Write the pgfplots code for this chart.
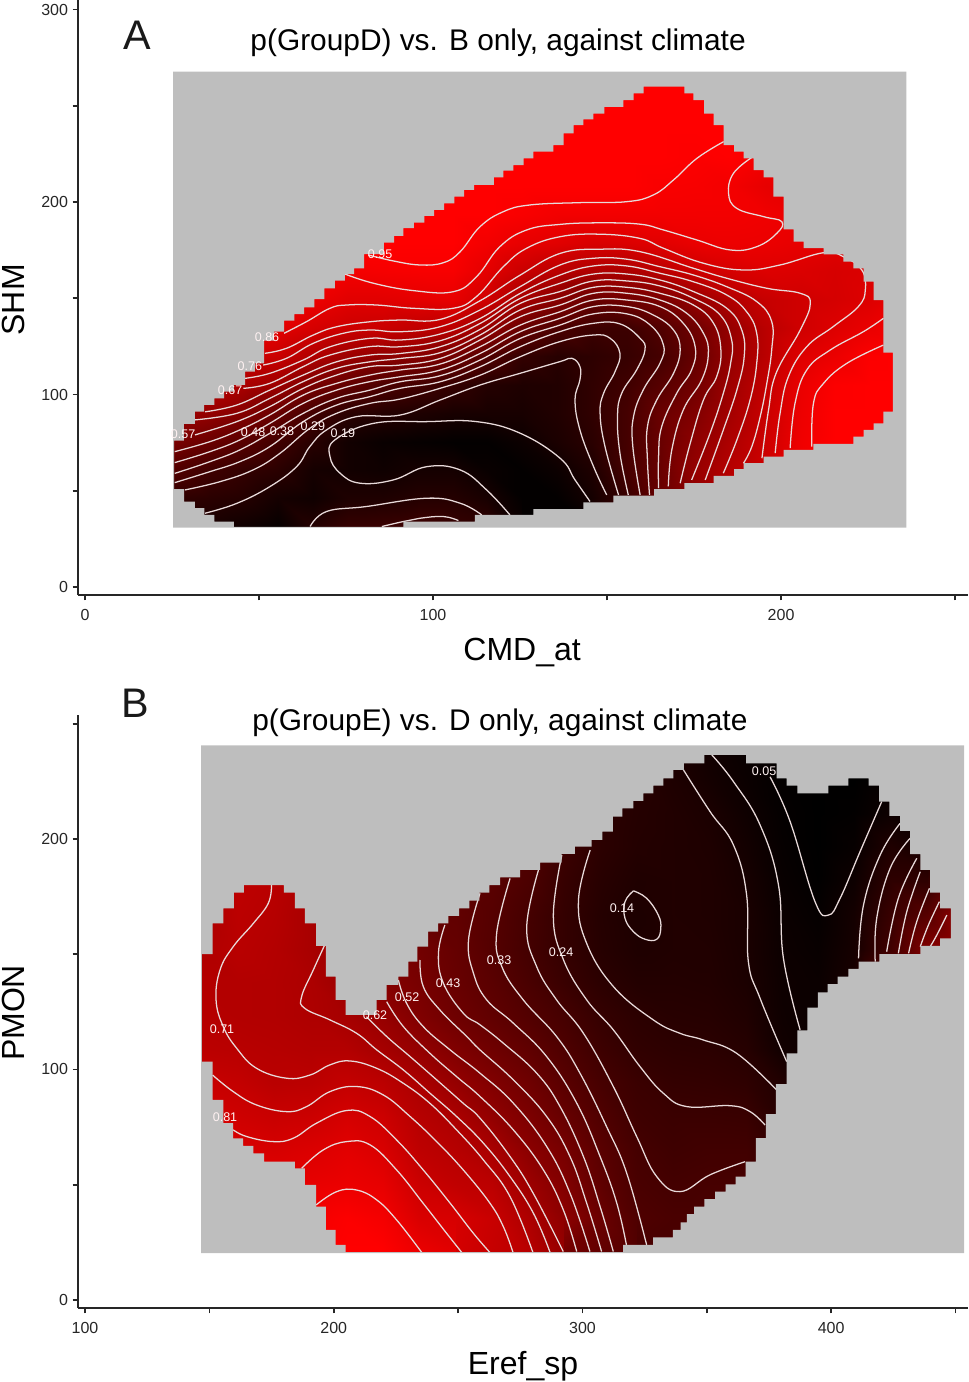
\documentclass[border=0pt]{standalone}
\usepackage{fontspec}
\setmainfont{Liberation Sans}
\usepackage{pgfplots}
\pgfplotsset{compat=1.18}
\definecolor{backg}{HTML}{BEBEBE}
\definecolor{cline}{HTML}{E8DADA}
\pgfplotsset{
  panel/.style={
    scale only axis, width=667.5pt,
    axis x line*=bottom, axis y line*=left,
    axis line style={-, line width=1.5pt, color=black!85},
    tick align=outside, major tick length=4pt,
    tick style={line width=1.2pt, color=black!85},
    ticklabel style={font=\fontsize{12}{12}\selectfont, text=black!85},
    x tick label style={yshift=-3.5pt},
    /pgf/number format/assume math mode=true,
    colormap={br}{rgb255(0)=(0,0,0) rgb255(1)=(255,0,0)},
    title style={font=\fontsize{22.4}{24}\selectfont},
    label style={font=\fontsize{24}{26}\selectfont},
  },
  heat/.style={surf, shader=interp, forget plot, point meta=explicit},
  cont/.style={draw=cline, line width=0.95pt, smooth, tension=0.7, no marks, forget plot, fill=none},
  mask/.style={const plot, fill=backg, draw=none, even odd rule, no marks, forget plot},
}
\newcommand{\clab}[2]{\node[text=white!95!red, font=\fontsize{9.4}{10}\selectfont, inner sep=0pt] at (axis cs:#1) {#2};}
\begin{document}
\begin{tikzpicture}
\path[use as bounding box] (0,0) rectangle (726.75pt,-1036.5pt);
\begin{axis}[panel, at={(58.5pt,-446.25pt)}, anchor=south west, height=446.25pt,
  xmin=-2, xmax=253.7, ymin=-4.2, ymax=305,
  point meta min=12, point meta max=97,
  xtick={0,50,...,250}, xticklabels={0,,100,,200,},
  ytick={0,50,...,300}, yticklabels={0,,100,,200,,300},
  title={p(GroupD) vs. B only, against climate},
  title style={at={(axis description cs:0.472,0.915)}, anchor=center},
  xlabel={CMD\_at}, xlabel style={at={(axis description cs:0.499,-0.0974)}, anchor=center},
  ylabel={SHM}, ylabel style={at={(axis description cs:-0.073,0.496)}, anchor=center},
]
\addplot[heat, mesh/rows=17, mesh/cols=22, mesh/ordering=y varies] table[row sep=\\, header=false,
  x expr={25.6+10*floor(\coordindex/17)}, y expr={31.2+14.77*mod(\coordindex,17)}, meta index=0] {
22\\28\\39\\52\\66\\80\\90\\97\\100\\100\\100\\100\\100\\100\\100\\100\\100\\
20\\26\\33\\47\\61\\76\\88\\95\\98\\100\\100\\100\\100\\100\\100\\100\\100\\
17\\24\\29\\41\\56\\68\\81\\92\\97\\100\\100\\100\\100\\100\\100\\100\\100\\
14\\19\\26\\33\\46\\64\\79\\88\\95\\98\\100\\100\\100\\100\\100\\100\\100\\
24\\17\\19\\25\\34\\52\\71\\83\\91\\97\\100\\100\\100\\100\\100\\100\\100\\
30\\22\\18\\18\\26\\44\\64\\80\\87\\93\\97\\100\\100\\100\\100\\100\\100\\
30\\22\\17\\15\\24\\37\\60\\79\\87\\94\\98\\100\\100\\100\\100\\100\\100\\
32\\24\\19\\14\\22\\34\\57\\76\\88\\94.5\\98\\100\\100\\100\\100\\100\\100\\
33\\24\\19\\13\\20\\29\\50\\74\\89\\94.5\\98\\100\\100\\100\\100\\100\\100\\
28\\20\\15\\13\\20\\24\\39\\62\\81\\88\\93\\97\\100\\100\\100\\100\\100\\
16\\13\\13\\16\\20\\22\\29\\46\\67\\79\\89\\95\\98\\100\\100\\100\\100\\
13\\13\\16\\21\\23\\23\\25\\37\\57\\74\\87\\93\\97\\100\\100\\100\\100\\
13\\19\\22\\26\\28\\28\\27\\32\\46\\70\\84\\93\\97\\100\\100\\100\\100\\
24\\31\\35\\35\\35\\33\\30\\32\\49\\69\\85\\93\\97.5\\100\\100\\100\\100\\
47\\47\\47\\47\\47\\41\\35\\39\\52\\74\\87\\93\\95\\99\\100\\100\\100\\
62\\61\\62\\59\\55\\50\\46\\49\\62\\80\\90\\93\\94.5\\96\\100\\100\\100\\
73\\73\\73\\70\\67\\65\\62\\62\\71\\83\\91\\93\\93\\97\\100\\100\\100\\
82\\82\\81\\80\\79\\77\\74\\74\\78\\85.7\\90.5\\92\\89\\93\\100\\100\\100\\
92\\92\\92\\92\\91\\90\\86\\81\\81\\85\\89\\90\\90\\90\\90\\90\\90\\
97\\97\\97\\97\\97\\96\\90.5\\85.7\\83\\83.5\\87\\90\\90\\90\\90\\90\\90\\
100\\100\\100\\100\\100\\100\\96\\90\\85.7\\85\\87\\90\\90\\90\\90\\90\\90\\
100\\100\\100\\100\\100\\100\\100\\95\\90\\90\\90\\90\\90\\90\\90\\90\\90\\
};
% contour lines, level 0.95 downwards
\addplot[cont] coordinates {(81.4,172.5)(88.6,169.4)(96.3,167.3)(103,168.5)(107.8,174.2)(113.5,187.2)(120.2,195)(127.9,198.5)(142.3,199.7)(155.7,200.2)(163.3,203.7)(169.1,211.5)(175.8,222.7)(183.5,231.4)};
\addplot[cont] coordinates {(229.4,125.7)(218.9,116.2)(212.2,105.8)(209.3,95.4)(208.8,72.9)};
\addplot[cont] coordinates {(74.7,162.6)(82.9,157.8)(94.3,154)(105.8,153.4)(112.5,161.2)(119.2,176.8)(126.9,185.5)(136.5,188.4)(148,189.2)(159.5,188.5)(166.2,185.5)(175.8,180.3)(185.4,175.1)(193,176.8)(198.8,183.8)(200.2,189.8)(195,192.4)(187.3,196.7)(184.9,204.5)(186.3,214.9)(191.6,223.2)};
\addplot[cont] coordinates {(229.4,139.6)(223.7,132.7)(214.1,123.1)(207.4,112.8)(204,95.4)(202.6,72.1)};
\addplot[cont] coordinates {(57.2,131.8)(63.7,137.9)(70.4,144.8)(75.2,146.5)(83.8,146.5)(94.3,144.8)(105.8,144.8)(112.5,150.9)(120.2,166.4)(126.9,176)(136.5,182)(148,183.3)(159.5,181.1)(166.2,176)(177.7,168.2)(189.2,164.7)(199.7,167.3)(212.2,173.7)(217.9,171.6)(223.2,164.7)(224.2,154.3)(222.2,145.7)(215,135.3)(207.4,124.9)(202.1,109.3)(199.7,90.2)(198.3,69.5)};
\addplot[cont] coordinates {(51.7,121.4)(57.9,124)(65.6,130.9)(72.3,135.2)(81.9,137.8)(90.5,138.7)(102,139)(113.5,148.7)(125,162)(136.5,173.3)(148,175.5)(159.5,174.2)(174.8,165.6)(184.4,160.4)(195.9,155.2)(205.5,152.6)(208.4,147.4)(205.5,133.5)(198.6,111.2)(196.4,92)(194.5,66.9)};
\addplot[cont] coordinates {(51.2,115.3)(57.9,118.8)(65.6,126.6)(74.2,131.8)(81.9,133.5)(90.5,132.6)(102,135.2)(113.5,143.9)(125,156)(136.5,167.3)(146.1,170.8)(155.7,170.3)(165.2,166.4)(174.8,162.1)(184.4,156)(193,148.3)(197.3,137.9)(197.3,123.2)(195.9,105.8)(194,88.5)(191.6,73)(189.2,64.3)};
\addplot[cont] coordinates {(46,108.4)(53.1,111)(62.7,117.9)(70.4,124.8)(81.9,129.2)(90.5,128.3)(102,131.4)(113.5,139.5)(125,152.5)(136.5,162.1)(146.1,166.8)(155.7,166.8)(165.2,163)(174.8,158.6)(184.4,151.7)(190.1,143)(193,131.8)(193,116.2)(191.1,97.2)(187.3,76.4)(183.4,59.1)};
\addplot[cont] coordinates {(45.5,103.2)(53.1,105.8)(62.7,114.5)(70.4,120.5)(81.9,124.9)(90.5,124.8)(102,127.9)(113.5,136.9)(125,149.9)(136.5,157.8)(146.1,162.6)(155.7,162.6)(165.2,159.5)(174.8,153.5)(184.4,144.8)(188.7,133.5)(189.4,119.7)(187.3,102.4)(183.4,81.6)(178.2,55.6)};
\addplot[cont] coordinates {(34.5,91)(43.6,94.5)(53.1,102.3)(62.7,110.1)(72.3,117)(81.9,120.5)(90.5,121.3)(102,124.8)(113.5,133.8)(125,147.3)(136.5,153.5)(146.1,159)(155.7,159)(165.2,156.4)(174.8,150)(182.5,141.3)(185.8,128.3)(185.5,116.2)(183.4,100.6)(179.6,79.9)(174.3,55.6)};
\addplot[cont] coordinates {(31.6,86.8)(43.6,90.2)(53.1,98)(62.7,106.7)(72.3,113.6)(81.9,117)(90.5,118.7)(102,121.7)(113.5,130.9)(125,143.9)(136.5,150)(146.1,155.7)(155.7,155.7)(165.2,152.6)(174.8,146.5)(180.6,137)(182.7,123.2)(181.5,109.3)(177.7,97.2)(173.9,74.7)(171,53.9)};
\addplot[cont] coordinates {(31.6,79)(43.6,85.9)(53.1,93.7)(62.7,103.2)(72.3,110.1)(81.9,114.5)(90.5,115.3)(102,118.7)(113.5,128.3)(125,140.4)(136.5,146.5)(146.1,152.6)(155.7,152.6)(165.2,149.1)(172.9,142.2)(177.7,131.8)(179.1,121.4)(177.2,107.6)(171.9,92)(168.6,71.2)(167.6,52.2)};
\addplot[cont] coordinates {(25.8,70.3)(35.9,75.5)(44.5,81.6)(53.1,89.4)(62.7,99.7)(72.3,105.8)(81.9,110.1)(90.5,112.7)(102,115.8)(113.5,124.8)(125,136)(136.5,143)(146.1,149.1)(155.7,149.1)(165.2,145.7)(171.9,137)(175.3,124.9)(174.3,112.8)(170,100.6)(165.7,83.3)(164.8,67.8)(164.8,51.3)};
\addplot[cont] coordinates {(25.8,64.6)(35.9,70.3)(44.5,76.4)(53.1,85)(62.7,95.4)(72.3,102.3)(81.9,106.7)(90.5,109.2)(102,112.7)(113.5,121.3)(125,132.6)(136.5,139.6)(146.1,145.7)(155.7,145.7)(163.3,141.3)(169.1,133.5)(171,123.2)(169.1,111)(164.3,97.2)(161.6,83.3)(161.6,66)(162.2,47.8)};
\addplot[cont] coordinates {(25.8,59)(35.9,65.1)(44.5,71.2)(53.1,79.8)(62.7,90.2)(72.3,98)(81.9,102.3)(90.5,106.6)(102,109.7)(113.5,117.9)(125,129.1)(136.5,136.1)(146.1,141.9)(155.7,141.9)(162.4,136.1)(166.2,125.8)(165.2,116.2)(160.4,102.4)(157.6,88.5)(157.4,73)(159.5,47.8)};
\addplot[cont] coordinates {(25.8,54.2)(35.9,59.9)(44.5,65.1)(53.1,72.9)(62.7,85.9)(72.3,94.5)(81.9,98.9)(90.5,103.2)(102,106.6)(113.5,114.4)(125,124.8)(136.5,132.7)(146.1,137)(153.7,136.7)(159.5,129.2)(160.9,123.2)(158.5,112.8)(154.2,100.6)(153,88.5)(153.7,69.5)(156.1,47.8)};
\addplot[cont] coordinates {(28.7,50.4)(38.8,54.7)(48.3,60.8)(56,69.4)(64.6,82.4)(72.3,90.2)(81.9,95.4)(90.5,97.6)(102,103.2)(113.5,110)(125,119.6)(136.5,127.5)(146.1,130.9)(150.9,129.2)(153.7,121.4)(152.3,111.9)(149,100.6)(148,90.3)(149.4,73)(153.3,47.8)};
\addplot[cont] coordinates {(34.5,38.3)(43.6,43.4)(53.1,52.1)(60.8,62.5)(64.6,72.9)(69.4,81.6)(78,88.5)(90.5,89.3)(102,97.1)(113.5,104.9)(125,111)(136.5,117.1)(139.9,118.8)(142.2,114.5)(142.2,107.6)(140.8,97.2)(142.2,81.6)(146.1,62.6)(149.9,47.8)};
\addplot[cont] coordinates {(122.1,37.4)(115.4,50.4)(107.8,60.8)(98.2,62.5)(88.6,55.6)(79,53.9)(73.3,59.1)(70.4,67.7)(71.8,76.4)(82.9,85)(98.2,85.9)(112.5,85.9)(125,79.9)(136.5,66.9)(140.8,55.6)(145.1,44.4)};
\addplot[cont] coordinates {(64.7,31.4)(69.4,39.2)(80.9,41.8)(98.2,46.1)(107.8,43.5)(114,37.4)};
\addplot[cont] coordinates {(85.3,31.4)(91.5,34)(96.3,35.7)(102.9,36.6)(107.3,34.5)};
% the grey ground, with the region of the data cut out of it
\addplot[mask] coordinates {(25.3,30.8)(236,30.8)(236,267.8)(25.3,267.8)(25.3,30.8)(25.3,50.8)(25.6,50.8)
(25.6,76)(28.4,84.7)(31.6,91.1)(34.2,94.6)(37.2,98)(40,101.5)(42.8,105)(46,111.9)(48.8,116.2)(51.5,128)(54.3,132.7)(57.2,138.4)(60.2,141.8)(63,145.3)(65.9,149.5)(68.8,155.2)(71.8,159.2)(74.7,162.6)(77.3,165.6)(80.2,173)(85.9,178.9)(88.8,182.4)(91.5,186.4)(94.5,189.3)(97.5,192.8)(100.3,195.9)(103.2,199.3)(106.1,202.8)(108.9,206.3)(111.8,208.9)(117.5,212.8)(120.2,216.3)(123.1,219.2)(126,222.7)(128.8,226.2)(134.6,229.6)(137.5,235.7)(140.4,240)(143.2,243)(146.1,246)(149.2,249.5)(154.7,253)(157.6,256.5)(160.5,260)(172.2,256.5)(174.8,253)(177.9,246)(180.6,240)(183.5,229.6)(186.5,226.2)(189.2,222.7)(192.1,216.6)(195,212.8)(197.8,202.8)(200.7,185.8)(203.6,179.4)(206.5,176)(212.2,172.8)(217.9,169)(220.8,165.6)(223.7,158.6)(226.6,149.1)(229.4,121.8)(232.1,91.1)(229.4,85)(226.6,81.6)(223.7,78.1)(220.8,74.3)(209.3,71.2)(200.7,67.7)(195,64.3)(189.2,61.2)(186.5,57.7)(180.6,53.9)(172.2,50.8)(163.5,47.5)(151.8,44)(143.2,40.4)(128.8,37.4)(112,33.9)(91.5,31.2)(42.8,33.9)(37.2,37.4)(34.3,40.9)(31.6,44.3)(28.5,50.8)(25.6,50.8)(25.3,50.8)(25.3,30.8)};
\clab{84.8,173}{0.95}\clab{52.3,129.9}{0.86}\clab{47.4,114.8}{0.76}\clab{41.7,102.3}{0.67}\clab{28.2,79.5}{0.57}\clab{48.3,80.5}{0.48}\clab{56.6,81}{0.38}\clab{65.5,83.6}{0.29}\clab{74.1,80}{0.19}
\node[font=\fontsize{31}{33}\selectfont, text=black!90] at (axis description cs:0.067,0.941) {A};
\end{axis}
\begin{axis}[panel, at={(58.5pt,-981pt)}, anchor=south west, height=444.75pt,
  xmin=97.2, xmax=455, ymin=-3.5, ymax=253.8,
  point meta min=3, point meta max=97,
  xtick={100,150,...,450}, xticklabels={100,,200,,300,,400,},
  ytick={0,50,...,250}, yticklabels={0,,100,,200,},
  title={p(GroupE) vs. D only, against climate},
  title style={at={(axis description cs:0.474,0.973)}, anchor=center},
  xlabel={Eref\_sp}, xlabel style={at={(axis description cs:0.5,-0.0977)}, anchor=center},
  ylabel={PMON}, ylabel style={at={(axis description cs:-0.073,0.4975)}, anchor=center},
  clip=false,
]
\addplot[heat, mesh/rows=16, mesh/cols=22, mesh/ordering=y varies] table[row sep=\\, header=false,
  x expr={147+14.571*floor(\coordindex/16)}, y expr={20.8+14.63*mod(\coordindex,16)}, meta index=0] {
85\\85\\85\\85\\85\\77\\72\\70\\69\\68\\67\\67\\67\\67\\67\\67\\
88\\88\\86\\83\\79\\75\\71\\69\\69\\71\\72\\73\\73\\73\\73\\73\\
95\\93\\88\\82\\77\\71.5\\70\\68.5\\68.5\\69\\70\\71\\71\\71\\71\\71\\
98\\93\\88.5\\84\\78\\72\\69\\67\\66.5\\65\\65\\65\\65\\65\\65\\65\\
100\\96\\90\\86.5\\81.5\\75\\69\\64\\60\\60\\60\\60\\60\\60\\60\\60\\
100\\93\\88\\83\\78.5\\72\\64\\58\\52\\50\\50\\50\\50\\50\\50\\50\\
90\\83\\78\\73\\70\\66\\57.5\\50\\47\\45\\40\\40\\40\\40\\40\\40\\
86\\82\\74\\70\\66\\58\\50\\43.5\\41\\40\\39\\38\\38\\38\\38\\38\\
81\\77\\72\\65.5\\57\\50.5\\44\\38.5\\36\\34\\34.5\\36\\36\\36\\36\\36\\
71\\67\\61\\54.5\\49\\44\\38.5\\33.5\\30\\28\\28.5\\31\\33\\33\\33\\33\\
58\\55\\51\\47\\41\\36\\32\\28.6\\24\\22\\22\\23\\25\\25\\25\\25\\
46\\42\\38\\36\\32.5\\29\\25.5\\22.5\\19\\17\\16.5\\17.5\\19\\19\\19\\19\\
33\\32\\30\\28.5\\26\\24.5\\21\\19\\16\\14.2\\13.5\\14.5\\16\\16.5\\17\\17\\
30\\30\\28\\26\\24.5\\22\\19.5\\17.5\\16\\15\\15\\15\\15\\15\\14\\13\\
30\\30\\29\\27\\24.5\\21.5\\19\\17\\15.5\\15\\14.5\\14.5\\14\\13\\10.5\\9\\
30\\30\\29\\27\\24\\20\\17\\14.7\\13\\12.5\\12.5\\11.5\\10\\8.5\\7\\6\\
25\\25\\22\\20\\17\\15\\9.5\\8.5\\8\\7.5\\7\\6\\5.2\\4.5\\4\\4\\
7\\7\\7\\7\\7\\7\\7\\7\\7\\6\\4.8\\3.5\\3\\3\\3\\3\\
12\\12\\12\\12\\12\\12\\12\\12\\12\\11\\10.5\\8\\5.5\\4\\3\\3\\
38\\38\\38\\38\\38\\38\\38\\38\\38\\27\\24\\20\\14.5\\8\\5\\5\\
50\\50\\50\\50\\50\\50\\50\\50\\50\\50\\35\\20\\10\\5\\5\\5\\
60\\60\\60\\60\\60\\60\\60\\60\\60\\60\\60\\60\\60\\60\\60\\60\\
};
\addplot[cont] coordinates {(192.9,41.2)(201.2,47)(209.2,47.7)(217.3,43.4)(225.3,34.7)(235.4,20.6)};
\addplot[cont] coordinates {(187.1,57.1)(195.8,65.1)(205.2,68.7)(214.6,67.3)(225.3,56.4)(236,41.9)(245.4,28.9)(251.5,20.6)};
\addplot[cont] coordinates {(159.6,73.8)(165,70.9)(175.7,68.7)(183.8,70.2)(193.1,76.7)(205.2,82.2)(214.6,79.6)(225.3,69.4)(236,56.4)(246.8,42)(256.1,29)(262.8,20.6)};
\addplot[cont] coordinates {(151.3,97.6)(159.6,90.4)(169,84.6)(181.1,81.7)(189.1,83.9)(198.5,90.4)(209.2,92.6)(220,88.9)(230.7,79.6)(241.4,68.7)(252.1,56.4)(262.8,42)(268.2,31.8)(272.1,20.6)};
\addplot[cont] coordinates {(175,180)(173.7,172.1)(167.7,163.4)(159.6,153.3)(154.3,143.2)(152.7,130.2)(155.6,118.6)(161,109.2)(169,100.5)(181.1,96.2)(190.5,97.6)(198.5,102)(206.5,103.7)(217.3,100.5)(228,94)(238.7,85.3)(249.4,73.8)(260.2,60.7)(270.9,44.8)(280.1,20.6)};
\addplot[cont] coordinates {(196.2,153.6)(191.8,143.2)(187.1,131.6)(188.4,126.5)(198.5,121.5)(209.2,115.7)(217.3,108.5)(228,99.8)(238.7,89.7)(249.4,79.6)(260.2,68)(270.9,53.5)(280.3,37.6)(287,20.6)};
\addplot[cont] coordinates {(213.2,122.9)(221.3,114.3)(230.7,105.6)(241.4,95.5)(252.1,85.3)(258.8,78.9)(270.9,62.2)(280.2,46.3)(292.3,21)};
\addplot[cont] coordinates {(221.3,129.4)(228,118.6)(238.7,107)(249.4,96.9)(258.8,88.3)(272.2,73.8)(284.3,56.4)(292.3,39.1)(297.7,21)};
\addplot[cont] coordinates {(226,138.8)(229.3,128.7)(236,118.6)(246.8,108.5)(258.8,98.4)(272.2,85.4)(285.6,66.6)(295,46.3)(303,21)};
\addplot[cont] coordinates {(234.7,147.5)(236,136)(242.7,125.8)(253.5,114.3)(258.8,108.5)(272.2,95.5)(285.6,79.6)(295,62.2)(301.7,42)(307.7,21)};
\addplot[cont] coordinates {(244.7,162.7)(242.1,150.4)(244.1,137.4)(252.1,124.4)(258.8,119.4)(268.2,111.4)(281.6,98.4)(291,83.9)(300.4,62.2)(307.1,40.5)(312.4,21)};
\addplot[cont] coordinates {(258.8,176.4)(254.2,156.2)(256.2,141.7)(261.5,130.2)(272.2,120.1)(285.6,105.6)(297.7,85.4)(307.1,62.2)(313.8,42)(317.8,23.2)};
\addplot[cont] coordinates {(270.9,182.9)(265.5,159)(267.6,144.6)(276.2,130.2)(289.6,114.3)(299,98.4)(309.7,75.2)(317.8,55)(325.8,23.9)};
\addplot[cont] coordinates {(282.3,186.5)(277.6,161.9)(281.6,144.6)(289.6,130.2)(300.4,115.7)(312.4,92.6)(321.8,70.9)(329.8,53.6)(339.2,47)(351.3,54.3)(365.4,60)};
\addplot[cont] coordinates {(291.7,193)(288.3,166.3)(292.4,147.5)(301.7,130.2)(312.4,117.2)(323.1,101.3)(332.5,89.7)(341.9,83.9)(359.3,84.3)(367.4,81.7)(373.4,75.9)};
\addplot[cont] coordinates {(303.1,195.2)(298.4,173.5)(301.7,154.7)(312.5,135.9)(328.5,121.5)(339.2,115.7)(348.6,112.8)(362,107)(378.1,91.1)};
\addplot[cont] coordinates {(340.6,230)(351.3,211.9)(360.7,197.4)(366,175.7)(366.7,146.8)(371.4,130.9)(382.1,103.4)};
\addplot[cont] coordinates {(320.5,177.5)(325.8,174.3)(330.5,167)(331.5,161.3)(329.9,156.5)(325.2,156.5)(320.5,159.8)(317.1,165.6)(317.1,172.8)(320.5,177.5)};
\addplot[cont] coordinates {(352,236.5)(360.7,224.9)(371.4,206.1)(378.8,180.1)(380.8,148.2)(387.5,117.2)};
\addplot[cont] coordinates {(375.4,227)(383.5,207.5)(393.5,172.8)(398.9,167)(403.6,174.3)(411.6,194.5)(420.3,216.2)};
\addplot[cont] coordinates {(427.7,206.8)(419.7,193.1)(413,171.4)(411,148.2)};
\addplot[cont] coordinates {(431.7,200.3)(423.7,187.3)(418.3,165.6)(417.7,146.8)};
\addplot[cont] coordinates {(434.4,191.6)(427,174.3)(422.3,151.1)};
\addplot[cont] coordinates {(435.8,185.8)(430.4,168.5)(427,150.4)};
\addplot[cont] coordinates {(439.5,178.6)(434.4,164.2)(431.1,150.4)};
\addplot[cont] coordinates {(443.5,172.8)(439.1,162.7)(435.8,153.3)};
\addplot[cont] coordinates {(446.5,167)(442.5,158.4)(439.8,153.3)};
\addplot[mask] coordinates {(146.7,20.3)(453.4,20.3)(453.4,240.6)(146.7,240.6)(146.7,20.3)(146.7,103.4)(147,103.4)
(147,150.1)(151.3,163.4)(155.6,169.9)(159.9,176.7)(163.9,180)(180,176.7)(184.4,169.9)(188.4,163.4)(192.9,153.6)(196.9,140.3)(200.8,130.2)(204.8,123.7)(217.3,130.2)(221.3,136.7)(226,140.3)(230,146.8)(233.6,153.3)(238,159.8)(242,163.4)(246.1,166.6)(250.4,169.9)(254.5,173.3)(258.6,176.7)(262.6,180)(266.9,183.4)(274.9,186.6)(283,189.7)(291.6,193.5)(297,196.7)(303.7,199.6)(308,203.2)(312.2,209.7)(316,213.3)(320.5,216.5)(324.5,219.8)(328.5,223.2)(332.5,226.3)(336.6,230)(340.8,232.8)(349,236.5)(365.8,232.8)(378.1,226.3)(382.1,223.2)(386.4,219.8)(398.9,223.2)(406.9,226.3)(415,223.2)(419.3,216.2)(423.4,210)(427.7,203.5)(431.7,193.4)(435.8,186.6)(439.8,176.7)(443.8,169.9)(448.1,156.9)(443.8,153.6)(435.8,150.1)(419.4,146.8)(411,143.6)(406.9,140.3)(402.6,137)(398.6,133.5)(394.6,126.8)(390.4,117)(386.4,107)(382.1,93.6)(377.8,80.6)(373.7,70.2)(369.7,60)(365.6,53.5)(361.6,50.2)(357.6,47)(353.3,43.8)(349,40.5)(344.9,37.2)(342,33.7)(339.5,30.4)(336.4,27.2)(328.4,23.9)(316.3,20.8)(204.8,23.9)(200.8,30.4)(196.9,40.5)(192.9,49.9)(188.4,57.1)(184.4,60)(172,63.6)(167.7,66.8)(163.6,70.1)(159.6,76.7)(155.6,86.8)(151.3,103.4)(147,103.4)(146.7,103.4)(146.7,20.3)};
\clab{373,229.5}{0.05}\clab{315.9,170}{0.14}\clab{291.4,151}{0.24}\clab{266.5,147.5}{0.33}\clab{246,137.5}{0.43}\clab{229.5,131.5}{0.52}\clab{216.6,123.6}{0.62}\clab{155.1,117.6}{0.71}\clab{156.3,79.4}{0.81}
\node[font=\fontsize{31}{33}\selectfont, text=black!90] at (axis description cs:0.064,1.02) {B};
\end{axis}
\end{tikzpicture}
\end{document}
